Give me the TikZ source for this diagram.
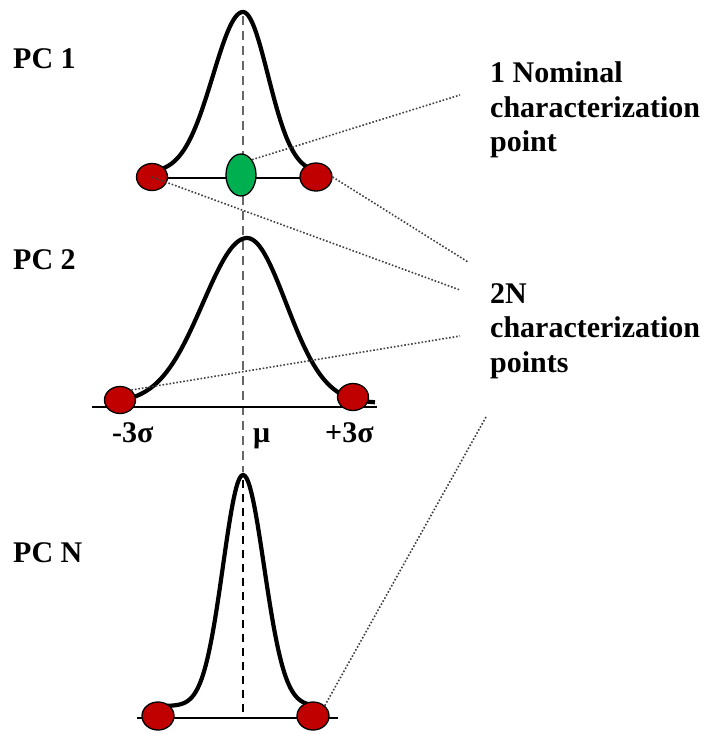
\documentclass[tikz,border=0pt]{standalone}
\usepackage{fontspec}
\setmainfont{Liberation Serif}
\usetikzlibrary{shapes.geometric}

\definecolor{ptred}{RGB}{192,0,0}
\definecolor{ptgreen}{RGB}{0,176,80}

\begin{document}
\begin{tikzpicture}[x=1pt,y=-1pt,
    lbl/.style={font=\fontsize{30}{34.5}\selectfont\bfseries,inner sep=0pt},
    bell/.style={line width=4.2pt,smooth,samples=90,variable=\t},
    cpoint/.style={ellipse,draw=black,line width=1.3pt,inner sep=0pt,fill=ptred,minimum width=31pt,minimum height=27pt},
    link/.style={line width=1.6pt,black!75,dash pattern=on 1.6pt off 1.9pt}]
    \useasboundingbox (0,0) rectangle (707,734);
    % mean line through the three curves
    \coordinate (top1) at (243,16);
    \coordinate (midend) at (243,472);
    \coordinate (topN) at (243,480);
    \coordinate (axN) at (243,718);
    \draw[black!60,line width=2.8pt,dash pattern=on 9pt off 6pt] (top1) -- (midend);
    \draw[line width=2.3pt,dash pattern=on 8pt off 6pt] (topN) -- (axN);
    % axes
    \coordinate (ax1l) at (152,178);
    \coordinate (ax1r) at (316,178);
    \coordinate (ax2l) at (92,407);
    \coordinate (ax2r) at (377,407);
    \coordinate (axNl) at (137,718);
    \coordinate (axNr) at (338,718);
    \draw[line width=1.5pt] (ax1l) -- (ax1r);
    \draw[line width=1.5pt] (ax2l) -- (ax2r);
    \draw[line width=1.5pt] (axNl) -- (axNr);
    % bell curves
    \draw[bell,domain=158:310] plot (\t,{173-161*exp(-0.5*((\t-243)/(\t<243 ? 30 : 25))^2)});
    \draw[bell,domain=128:375] plot (\t,{403-165*exp(-0.5*((\t-247)/(\t<247 ? 44 : 39))^2)});
    \draw[bell,domain=160:311] plot (\t,{706-231*exp(-0.5*((\t-243)/(\t<243 ? 20 : 21))^2)});
    % characterization points
    \node[cpoint] (lo1) at (152,177) {};
    \node[cpoint,minimum width=32pt,minimum height=28pt] (hi1) at (316,177) {};
    \node[cpoint,fill=ptgreen,minimum width=30pt,minimum height=42pt] (nom) at (241,175) {};
    \node[cpoint] (lo2) at (120,400) {};
    \node[cpoint] (hi2) at (353,397) {};
    \node[cpoint,minimum width=32pt,minimum height=28pt] (loN) at (158,716) {};
    \node[cpoint,minimum width=32pt,minimum height=28pt] (hiN) at (313,716) {};
    % labels
    \node[lbl,anchor=base west] (pc1) at (13,68) {PC 1};
    \node[lbl,anchor=base west] (pc2) at (13,269) {PC 2};
    \node[lbl,anchor=base west] (pcN) at (13,562) {PC N};
    \node[lbl,anchor=base west] (msig) at (112,442) {-3σ};
    \node[lbl,anchor=base west] (mu) at (253,442) {μ};
    \node[lbl,anchor=base west] (psig) at (325,442) {+3σ};
    \node[lbl,anchor=north west,align=left] (nomtxt) at (490,61.5) {1 Nominal\\characterization\\point};
    \node[lbl,anchor=north west,align=left] (twoNtxt) at (490,283) {2N\\characterization\\points};
    % dotted links to the notes
    \coordinate (nomend) at (460,95);
    \coordinate (hi1end) at (468,262);
    \coordinate (lo1end) at (460,290);
    \coordinate (lo2end) at (460,336);
    \coordinate (hiNend) at (486,417);
    \draw[link] (nom.north east) -- (nomend);
    \draw[link] (hi1.east) -- (hi1end);
    \draw[link] (lo1.center) -- (lo1end);
    \draw[link] (lo2.north east) -- (lo2end);
    \draw[link] (hiN.north east) -- (hiNend);
\end{tikzpicture}
\end{document}
